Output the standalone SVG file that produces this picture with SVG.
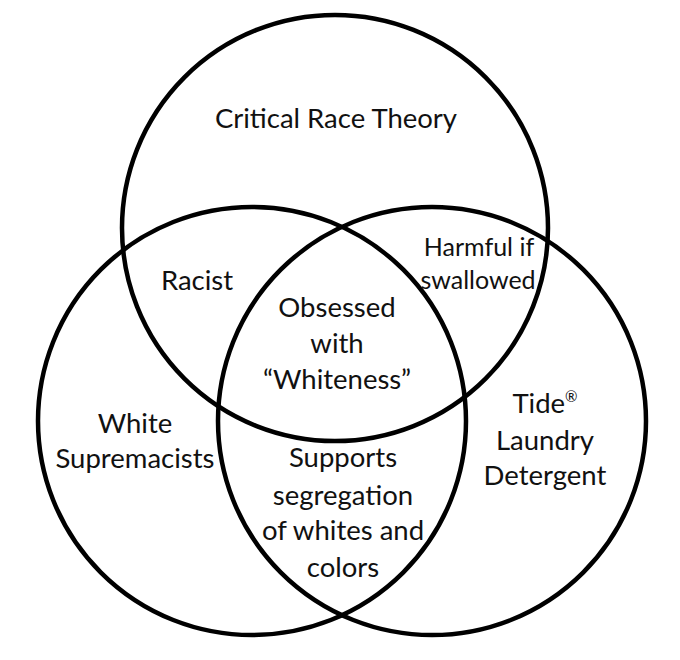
<svg xmlns="http://www.w3.org/2000/svg" width="680" height="660" viewBox="0 0 680 660">
<style>
.c{fill:none;stroke:#000;stroke-width:4.5}
.t{font-family:Lato,"Open Sans","Liberation Sans",sans-serif;font-size:27.5px;fill:#111;text-anchor:middle}
.s{font-size:25px}
</style>
<rect width="680" height="660" fill="#fff"/>
<g id="circle-crt"><circle class="c" cx="335" cy="228" r="213"/></g>
<g id="circle-ws"><circle class="c" cx="252" cy="421" r="214"/></g>
<g id="circle-tide"><circle class="c" cx="432" cy="421" r="214"/></g>
<g id="label-crt"><text class="t" x="336" y="128">Critical Race Theory</text></g>
<g id="label-racist"><text class="t" x="197" y="290">Racist</text></g>
<g id="label-harmful"><text class="t s" x="479" y="256">Harmful if</text><text class="t s" x="478" y="289">swallowed</text></g>
<g id="label-obsessed"><text class="t" x="337" y="317">Obsessed</text><text class="t" x="337" y="353">with</text><text class="t" x="337" y="389">“Whiteness”</text></g>
<g id="label-ws"><text class="t" x="135" y="433">White</text><text class="t" x="135" y="468">Supremacists</text></g>
<g id="label-supports"><text class="t" x="343" y="467">Supports</text><text class="t" x="343" y="505">segregation</text><text class="t" x="343" y="540">of whites and</text><text class="t" x="343" y="577">colors</text></g>
<g id="label-tide"><text class="t" x="545" y="413">Tide<tspan font-size="15" dy="-11">®</tspan></text><text class="t" x="545" y="450">Laundry</text><text class="t" x="545" y="485">Detergent</text></g>
</svg>
